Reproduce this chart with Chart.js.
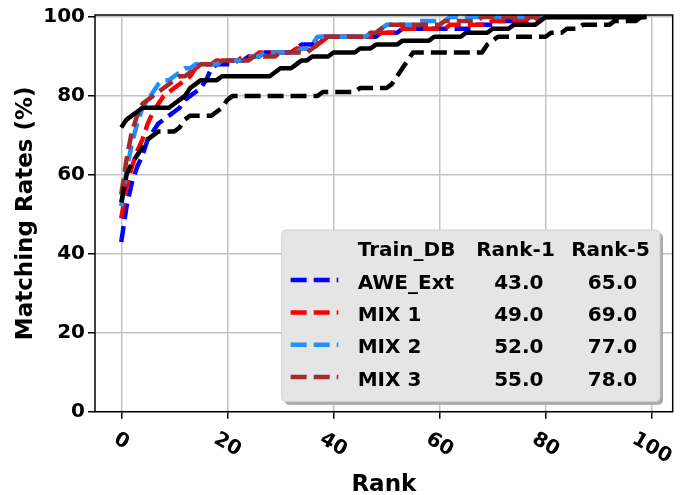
<!DOCTYPE html>
<html>
<head>
<meta charset="utf-8">
<script src="https://cdn.jsdelivr.net/npm/chart.js@4"></script>
<style>
  html, body { margin: 0; padding: 0; background: #ffffff; }
  #wrap { width: 683px; height: 495px; position: relative; }
</style>
</head>
<body>
<div id="wrap"><canvas id="c"></canvas></div>
<script>
// CMC curves: matching rate (%) for ranks 1..100, plotted at x = rank - 1
const seriesNames = ['AWE_Ext', 'MIX 1', 'MIX 2', 'MIX 3'];

const aweExt = [
  43,52,58,62,65,69,71,73,74,75,
  76,77,79,80,81,82,84,87,88,88,
  88,88,89,89,90,90,90,91,91,91,
  91,91,91,92,93,93,93,94,95,95,
  95,95,95,95,95,95,95,95,95,96,
  96,96,96,97,97,97,97,97,97,97,
  97,97,97,97,97,97,97,98,98,98,
  98,99,99,99,99,99,99,100,100,100,
  100,100,100,100,100,100,100,100,100,100,
  100,100,100,100,100,100,100,100,100,100
];
const mix1 = [
  49,57,62,66,69,73,76,78,80,81,
  82,83,84,85,87,88,88,88,89,89,
  89,89,89,90,90,90,91,91,91,91,
  91,91,91,92,92,92,92,93,94,95,
  95,95,95,95,95,95,95,95,96,96,
  96,96,96,97,97,97,97,97,97,97,
  97,97,98,98,98,98,98,98,98,98,
  99,99,99,99,99,99,99,99,99,100,
  100,100,100,100,100,100,100,100,100,100,
  100,100,100,100,100,100,100,100,100,100
];
const mix2 = [
  52,61,68,73,77,79,81,83,84,84,
  85,86,87,87,88,88,88,88,88,89,
  89,89,89,89,90,90,90,91,91,91,
  91,91,91,91,92,92,93,95,95,95,
  95,95,95,95,95,95,95,96,96,97,
  98,98,98,98,98,98,99,99,99,99,
  99,99,100,100,100,100,100,100,100,100,
  100,100,100,100,100,100,100,100,100,100,
  100,100,100,100,100,100,100,100,100,100,
  100,100,100,100,100,100,100,100,100,100
];
const mix3 = [
  55,64,71,75,78,79,80,81,82,83,
  84,85,85,86,87,88,88,88,88,89,
  89,89,89,89,89,90,90,90,90,90,
  91,91,91,91,91,91,92,93,95,95,
  95,95,95,95,95,95,95,96,96,97,
  98,98,98,98,98,98,98,98,98,98,
  98,99,99,99,99,99,99,99,100,100,
  100,100,100,100,100,100,100,100,100,100,
  100,100,100,100,100,100,100,100,100,100,
  100,100,100,100,100,100,100,100,100,100
];
// two reference curves (black, not listed in the table)
const refSolid = [
  72,74,75,76,77,77,77,77,77,77,
  78,79,80,82,83,84,84,84,84,85,
  85,85,85,85,85,85,85,85,85,86,
  87,87,87,88,89,89,90,90,90,90,
  91,91,91,91,91,92,92,92,93,93,
  93,93,93,94,94,94,94,94,94,95,
  95,95,95,95,95,96,96,96,96,96,
  97,97,97,97,98,98,98,98,98,99,
  100,100,100,100,100,100,100,100,100,100,
  100,100,100,100,100,100,100,100,100,100
];
const refDashed = [
  53,60,63,65,67,69,70,71,71,71,
  71,72,74,75,75,75,75,75,76,77,
  79,80,80,80,80,80,80,80,80,80,
  80,80,80,80,80,80,80,80,81,81,
  81,81,81,81,81,82,82,82,82,82,
  82,83,85,87,89,91,91,91,91,91,
  91,91,91,91,91,91,91,91,91,93,
  94,95,95,95,95,95,95,95,95,95,
  95,96,96,96,97,97,97,98,98,98,
  98,98,98,99,99,99,99,99,100,100
];

const xTicks = [0, 20, 40, 60, 80, 100];
const yTicks = [0, 20, 40, 60, 80, 100];

const colors = ['#0000ff', '#ff0000', '#1e90ff', '#a52a2a'];
const dash = [16, 7];
const FONT = "'DejaVu Sans', 'Liberation Sans', sans-serif";

const toPoints = arr => arr.map((v, i) => ({ x: i, y: v }));

const coloured = [aweExt, mix1, mix2, mix3];
const datasets = coloured.map((arr, k) => ({
  label: seriesNames[k],
  data: toPoints(arr),
  borderColor: colors[k],
  borderWidth: 4.5,
  borderDash: dash,
  order: 10 - k
}));
datasets.push({ label: 'ref-solid', data: toPoints(refSolid), borderColor: '#000000', borderWidth: 4.5, order: 2 });
datasets.push({ label: 'ref-dashed', data: toPoints(refDashed), borderColor: '#000000', borderWidth: 4.5, borderDash: dash, order: 1 });

// frame, rotated x tick labels, axis titles and the results table
const decorations = {
  id: 'decorations',
  afterDatasetsDraw(chart) {
    const ctx = chart.ctx, a = chart.chartArea;
    ctx.save();
    ctx.strokeStyle = '#000000';
    ctx.lineWidth = 1.5;
    ctx.strokeRect(a.left, a.top, a.right - a.left, a.bottom - a.top);
    ctx.restore();
  },
  afterDraw(chart) {
    const ctx = chart.ctx, a = chart.chartArea;
    const xs = chart.scales.x;
    ctx.save();
    ctx.fillStyle = '#000000';

    // x tick labels, turned 30 degrees clockwise
    ctx.font = 'bold 20px ' + FONT;
    ctx.textAlign = 'center';
    ctx.textBaseline = 'middle';
    const ang = Math.PI / 6;
    const lineH = 23.3;
    xTicks.forEach(v => {
      const label = String(v);
      const w = ctx.measureText(label).width;
      const H = w * Math.sin(ang) + lineH * Math.cos(ang);
      const cx = xs.getPixelForValue(v);
      const cy = a.bottom + 16 + H / 2;
      ctx.save();
      ctx.translate(cx, cy);
      ctx.rotate(ang);
      ctx.fillText(label, 0, 0);
      ctx.restore();
    });

    // axis titles
    ctx.font = 'bold 23px ' + FONT;
    ctx.textBaseline = 'alphabetic';
    ctx.textAlign = 'center';
    ctx.fillText('Rank', (a.left + a.right) / 2, 491);
    ctx.save();
    ctx.translate(31.5, (a.top + a.bottom) / 2);
    ctx.rotate(-Math.PI / 2);
    ctx.fillText('Matching Rates (%)', 0, 0);
    ctx.restore();

    // results table
    const bx = 281.7, by = 230, bw = 378.3, bh = 171.7, r = 5;
    const rr = (x, y, w, h) => {
      ctx.beginPath();
      ctx.moveTo(x + r, y);
      ctx.lineTo(x + w - r, y);
      ctx.quadraticCurveTo(x + w, y, x + w, y + r);
      ctx.lineTo(x + w, y + h - r);
      ctx.quadraticCurveTo(x + w, y + h, x + w - r, y + h);
      ctx.lineTo(x + r, y + h);
      ctx.quadraticCurveTo(x, y + h, x, y + h - r);
      ctx.lineTo(x, y + r);
      ctx.quadraticCurveTo(x, y, x + r, y);
      ctx.closePath();
    };
    rr(bx + 3, by + 3, bw, bh);
    ctx.fillStyle = '#a8a8a8';
    ctx.fill();
    rr(bx, by, bw, bh);
    ctx.fillStyle = '#e5e5e5';
    ctx.fill();
    ctx.strokeStyle = '#cfcfcf';
    ctx.lineWidth = 1;
    ctx.stroke();

    ctx.fillStyle = '#000000';
    ctx.font = 'bold 20px ' + FONT;
    const headY = 256.3, rowH = 32.3;
    ctx.textAlign = 'left';
    ctx.fillText('Train_DB', 357.7, headY);
    ctx.textAlign = 'center';
    ctx.fillText('Rank-1', 515.5, headY);
    ctx.fillText('Rank-5', 610.5, headY);

    coloured.forEach((arr, k) => {
      const y = headY + rowH * (k + 1);
      ctx.save();
      ctx.strokeStyle = colors[k];
      ctx.lineWidth = 4.5;
      ctx.setLineDash(dash);
      ctx.beginPath();
      ctx.moveTo(290.7, y - 8.5);
      ctx.lineTo(338.3, y - 8.5);
      ctx.stroke();
      ctx.restore();
      ctx.textAlign = 'left';
      ctx.fillText(seriesNames[k], 357.7, y);
      ctx.textAlign = 'center';
      ctx.fillText(arr[0].toFixed(1), 518.8, y);
      ctx.fillText(arr[4].toFixed(1), 612.5, y);
    });
    ctx.restore();
  }
};

Chart.defaults.font.family = FONT;

new Chart(document.getElementById('c'), {
  type: 'line',
  data: { datasets },
  options: {
    responsive: true,
    maintainAspectRatio: false,
    devicePixelRatio: 1,
    animation: false,
    layout: { padding: { top: 15, right: 10.3, left: 0, bottom: 0 } },
    elements: {
      point: { radius: 0, hoverRadius: 0 },
      line: { tension: 0, fill: false, borderCapStyle: 'butt', borderJoinStyle: 'round' }
    },
    plugins: { legend: { display: false }, tooltip: { enabled: false } },
    scales: {
      x: {
        type: 'linear',
        min: -4.95,
        max: 103.95,
        afterBuildTicks: s => { s.ticks = xTicks.map(v => ({ value: v })); },
        afterFit: s => { s.height = 83.3; },
        grid: { color: '#c4c4c4', lineWidth: 1.5, tickColor: '#000000', tickLength: 7, tickWidth: 1.5 },
        border: { display: false },
        ticks: { display: false }
      },
      y: {
        type: 'linear',
        min: 0,
        max: 100.5,
        afterBuildTicks: s => { s.ticks = yTicks.map(v => ({ value: v })); },
        afterFit: s => { s.width = 95; },
        grid: { color: '#c4c4c4', lineWidth: 1.5, tickColor: '#000000', tickLength: 7, tickWidth: 1.5 },
        border: { display: false },
        ticks: { color: '#000000', padding: 3, font: { size: 20, weight: 'bold' } }
      }
    }
  },
  plugins: [decorations]
});
</script>
</body>
</html>
